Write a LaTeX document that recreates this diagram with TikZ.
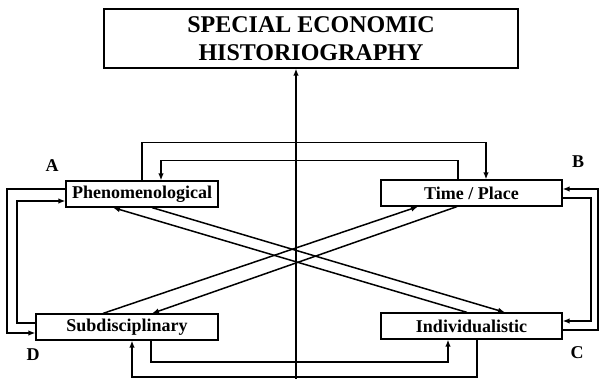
\documentclass[tikz,border=0pt]{standalone}
\usepackage{fontspec}
\setmainfont{Liberation Serif}
\usetikzlibrary{arrows.meta}
\begin{document}
\begin{tikzpicture}[x=1pt,y=-1pt,
  box/.style={draw,line width=1.2pt,inner sep=0pt,font=\bfseries\fontsize{18}{20}\selectfont},
  lbl/.style={inner sep=0pt,font=\bfseries\fontsize{18}{20}\selectfont},
  conn/.style={line width=1.5pt},
  arr/.style={conn,-{Latex[length=7pt,width=5.5pt]}}]
\useasboundingbox (0,0) rectangle (600,379);
% nodes
\node[box,minimum width=414pt,minimum height=59pt,align=center,
      font=\bfseries\fontsize{24}{28}\selectfont] (top) at (311,38.5)
      {SPECIAL ECONOMIC\\HISTORIOGRAPHY};
\node[box,minimum width=152pt,minimum height=26pt] (phen) at (142,194) {Phenomenological};
\node[box,minimum width=181pt,minimum height=26pt] (time) at (471.5,193) {Time / Place};
\node[box,minimum width=182pt,minimum height=26pt] (subd) at (127,327) {Subdisciplinary};
\node[box,minimum width=181pt,minimum height=26pt] (ind) at (471.5,326) {Individualistic};
\node[lbl] (la) at (52,166) {A};
\node[lbl] (lb) at (578,162) {B};
\node[lbl] (lc) at (577,353) {C};
\node[lbl] (ld) at (33,355) {D};
% vertical arrow
\coordinate (bot) at (296,381);
\draw[arr] (bot) -- (bot |- top.south);
% top connectors
\draw[arr] (phen.north) -- ++(0,-38) -| ([xshift=14.5pt]time.north);
\draw[arr] ([xshift=-13.5pt]time.north) -- ++(0,-19) -| ([xshift=19pt]phen.north);
% left connectors
\draw[arr] ([yshift=5pt]phen.west) -| (7,333) -- ([yshift=-6pt]subd.west);
\draw[arr] ([yshift=4pt]subd.west) -| (17,201) -- ([yshift=-7pt]phen.west);
% right connectors
\draw[arr] ([yshift=-4pt]ind.east) -| (598,189) -- ([yshift=4pt]time.east);
\draw[arr] ([yshift=-5pt]time.east) -| (591,321) -- ([yshift=5pt]ind.east);
% bottom connectors
\draw[arr] ([xshift=24pt]subd.south) |- (448,362) -- ([xshift=-23.5pt]ind.south);
\draw[arr] ([xshift=5.5pt]ind.south) |- (132,377) -- ([xshift=5pt]subd.south);
% diagonals
\draw[arr] ([xshift=10pt]phen.south) -- ([xshift=33.5pt]ind.north);
\draw[arr] ([xshift=-4.5pt]ind.north) -- ([xshift=-29pt]phen.south);
\draw[arr] ([xshift=-24pt]subd.north) -- ([xshift=-53.5pt]time.south);
\draw[arr] ([xshift=-14.5pt]time.south) -- ([xshift=25pt]subd.north);
\end{tikzpicture}
\end{document}
